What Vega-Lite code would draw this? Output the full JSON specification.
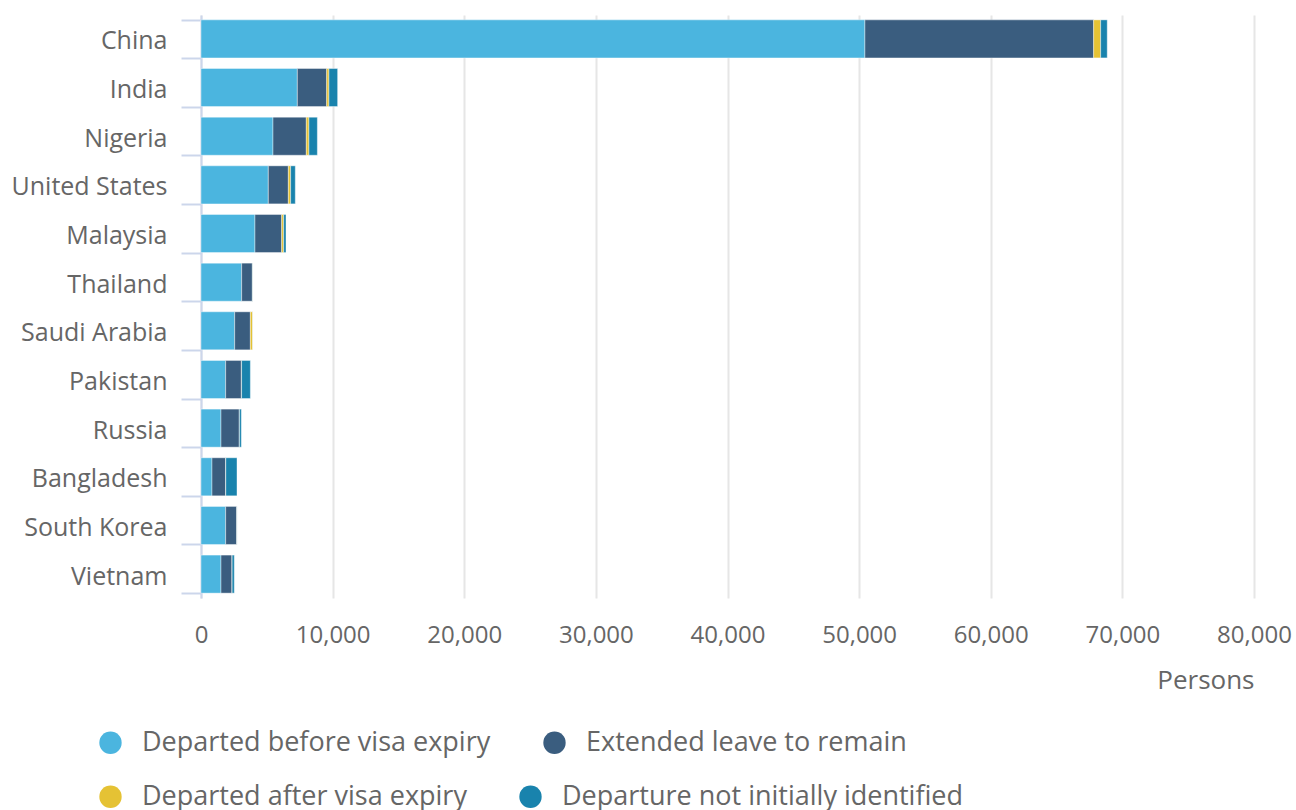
{
  "$schema": "https://vega.github.io/schema/vega-lite/v6.json",
  "width": 1053,
  "height": 583,
  "autosize": {"type": "none"},
  "padding": {"left": 201, "top": 15, "right": 42, "bottom": 212},
  "config": {
    "font": "Open Sans",
    "view": {"stroke": null},
    "legend": {
      "labelFont": "Open Sans",
      "title": null,
      "orient": "none",
      "direction": "horizontal",
      "symbolType": "circle",
      "symbolSize": 500,
      "symbolStrokeWidth": 0,
      "symbolOpacity": 1,
      "labelFontSize": 27,
      "labelColor": "#666666",
      "labelOffset": 18,
      "labelLimit": 600,
      "columnPadding": 50
    }
  },
  "data": {
    "values": [
      {"country": "China", "status": "Departed before visa expiry", "seq": 1, "value": 50440},
      {"country": "China", "status": "Extended leave to remain", "seq": 2, "value": 17380},
      {"country": "China", "status": "Departed after visa expiry", "seq": 3, "value": 530},
      {"country": "China", "status": "Departure not initially identified", "seq": 4, "value": 500},
      {"country": "India", "status": "Departed before visa expiry", "seq": 1, "value": 7320},
      {"country": "India", "status": "Extended leave to remain", "seq": 2, "value": 2230},
      {"country": "India", "status": "Departed after visa expiry", "seq": 3, "value": 170},
      {"country": "India", "status": "Departure not initially identified", "seq": 4, "value": 660},
      {"country": "Nigeria", "status": "Departed before visa expiry", "seq": 1, "value": 5470},
      {"country": "Nigeria", "status": "Extended leave to remain", "seq": 2, "value": 2530},
      {"country": "Nigeria", "status": "Departed after visa expiry", "seq": 3, "value": 200},
      {"country": "Nigeria", "status": "Departure not initially identified", "seq": 4, "value": 640},
      {"country": "United States", "status": "Departed before visa expiry", "seq": 1, "value": 5115},
      {"country": "United States", "status": "Extended leave to remain", "seq": 2, "value": 1520},
      {"country": "United States", "status": "Departed after visa expiry", "seq": 3, "value": 175},
      {"country": "United States", "status": "Departure not initially identified", "seq": 4, "value": 355},
      {"country": "Malaysia", "status": "Departed before visa expiry", "seq": 1, "value": 4100},
      {"country": "Malaysia", "status": "Extended leave to remain", "seq": 2, "value": 2030},
      {"country": "Malaysia", "status": "Departed after visa expiry", "seq": 3, "value": 150},
      {"country": "Malaysia", "status": "Departure not initially identified", "seq": 4, "value": 180},
      {"country": "Thailand", "status": "Departed before visa expiry", "seq": 1, "value": 3090},
      {"country": "Thailand", "status": "Extended leave to remain", "seq": 2, "value": 810},
      {"country": "Thailand", "status": "Departed after visa expiry", "seq": 3, "value": 20},
      {"country": "Thailand", "status": "Departure not initially identified", "seq": 4, "value": 20},
      {"country": "Saudi Arabia", "status": "Departed before visa expiry", "seq": 1, "value": 2560},
      {"country": "Saudi Arabia", "status": "Extended leave to remain", "seq": 2, "value": 1190},
      {"country": "Saudi Arabia", "status": "Departed after visa expiry", "seq": 3, "value": 175},
      {"country": "Saudi Arabia", "status": "Departure not initially identified", "seq": 4, "value": 10},
      {"country": "Pakistan", "status": "Departed before visa expiry", "seq": 1, "value": 1875},
      {"country": "Pakistan", "status": "Extended leave to remain", "seq": 2, "value": 1190},
      {"country": "Pakistan", "status": "Departed after visa expiry", "seq": 3, "value": 20},
      {"country": "Pakistan", "status": "Departure not initially identified", "seq": 4, "value": 665},
      {"country": "Russia", "status": "Departed before visa expiry", "seq": 1, "value": 1520},
      {"country": "Russia", "status": "Extended leave to remain", "seq": 2, "value": 1390},
      {"country": "Russia", "status": "Departed after visa expiry", "seq": 3, "value": 10},
      {"country": "Russia", "status": "Departure not initially identified", "seq": 4, "value": 145},
      {"country": "Bangladesh", "status": "Departed before visa expiry", "seq": 1, "value": 835},
      {"country": "Bangladesh", "status": "Extended leave to remain", "seq": 2, "value": 1040},
      {"country": "Bangladesh", "status": "Departed after visa expiry", "seq": 3, "value": 10},
      {"country": "Bangladesh", "status": "Departure not initially identified", "seq": 4, "value": 850},
      {"country": "South Korea", "status": "Departed before visa expiry", "seq": 1, "value": 1875},
      {"country": "South Korea", "status": "Extended leave to remain", "seq": 2, "value": 850},
      {"country": "South Korea", "status": "Departed after visa expiry", "seq": 3, "value": 5},
      {"country": "South Korea", "status": "Departure not initially identified", "seq": 4, "value": 10},
      {"country": "Vietnam", "status": "Departed before visa expiry", "seq": 1, "value": 1520},
      {"country": "Vietnam", "status": "Extended leave to remain", "seq": 2, "value": 835},
      {"country": "Vietnam", "status": "Departed after visa expiry", "seq": 3, "value": 10},
      {"country": "Vietnam", "status": "Departure not initially identified", "seq": 4, "value": 165}
    ]
  },
  "encoding": {
    "y": {
      "field": "country",
      "type": "nominal",
      "sort": null,
      "scale": {"paddingInner": 0.218, "paddingOuter": 0.1},
      "axis": {
        "title": null,
        "tickBand": "extent",
        "domainColor": "#ccd6eb",
        "tickColor": "#ccd6eb",
        "domainWidth": 2,
        "tickWidth": 2,
        "tickSize": 20,
        "labelPadding": 14,
        "labelOffset": 2,
        "labelFontSize": 25,
        "labelColor": "#666666",
        "labelFont": "Open Sans",
        "grid": false
      }
    },
    "x": {
      "field": "value",
      "type": "quantitative",
      "stack": "zero",
      "scale": {"domain": [0, 80000], "nice": false},
      "axis": {
        "title": "Persons",
        "titleAnchor": "end",
        "titleAlign": "right",
        "titleFontSize": 26,
        "titleFontWeight": "normal",
        "titleColor": "#666666",
        "titleFont": "Open Sans",
        "titlePadding": 20,
        "domain": false,
        "ticks": false,
        "grid": true,
        "gridColor": "#e6e6e6",
        "gridWidth": 2,
        "labelFontSize": 24,
        "labelPadding": 25,
        "labelColor": "#666666",
        "labelFont": "Open Sans",
        "values": [0, 10000, 20000, 30000, 40000, 50000, 60000, 70000, 80000],
        "format": ",.0f",
        "labelFlush": false
      }
    },
    "order": {"field": "seq", "type": "quantitative"}
  },
  "layer": [
    {
      "mark": {"type": "bar", "stroke": "#ffffff", "strokeWidth": 1, "strokeOpacity": 0.4},
      "encoding": {
        "color": {
          "field": "status",
          "type": "nominal",
          "scale": {
            "domain": ["Departed before visa expiry", "Extended leave to remain", "Departed after visa expiry", "Departure not initially identified"],
            "range": ["#4bb5df", "#3a5d7f", "#e5c234", "#1983ad"]
          },
          "legend": {
            "values": ["Departed before visa expiry", "Extended leave to remain"],
            "legendX": -104,
            "legendY": 714
          }
        }
      }
    },
    {
      "transform": [{"filter": "datum.seq >= 3"}],
      "mark": {"type": "point", "filled": true, "shape": "circle", "opacity": 0},
      "encoding": {
        "fill": {
          "field": "status",
          "type": "nominal",
          "scale": {
            "domain": ["Departed after visa expiry", "Departure not initially identified"],
            "range": ["#e5c234", "#1983ad"]
          },
          "legend": {
            "legendX": -104,
            "legendY": 768,
            "encode": {"symbols": {"update": {"opacity": {"value": 1}, "fillOpacity": {"value": 1}}}}
          }
        }
      }
    }
  ]
}
